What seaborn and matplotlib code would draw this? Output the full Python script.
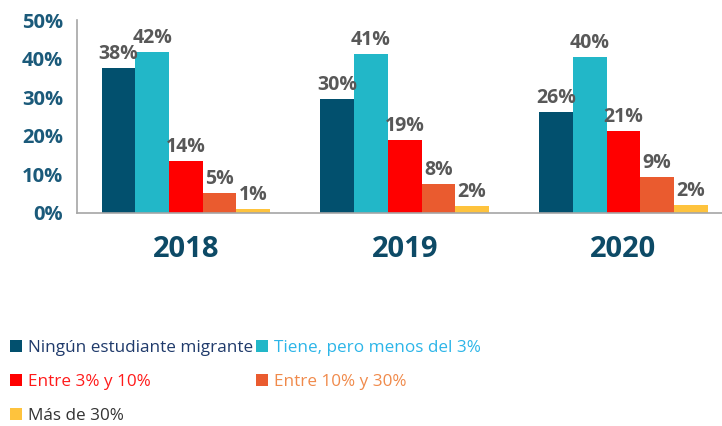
import matplotlib
matplotlib.use("Agg")
import matplotlib.pyplot as plt
import seaborn as sns
import pandas as pd
from matplotlib.patches import Patch

years = ["2018", "2019", "2020"]
categories = ["Ningún estudiante migrante", "Tiene, pero menos del 3%",
              "Entre 3% y 10%", "Entre 10% y 30%", "Más de 30%"]
values = {
    "Ningún estudiante migrante": [37.6, 29.5, 26.2],
    "Tiene, pero menos del 3%": [41.6, 41.1, 40.3],
    "Entre 3% y 10%": [13.5, 18.9, 21.2],
    "Entre 10% y 30%": [5.1, 7.5, 9.2],
    "Más de 30%": [1.0, 1.8, 2.1],
}
labels = {
    "Ningún estudiante migrante": ["38%", "30%", "26%"],
    "Tiene, pero menos del 3%": ["42%", "41%", "40%"],
    "Entre 3% y 10%": ["14%", "19%", "21%"],
    "Entre 10% y 30%": ["5%", "8%", "9%"],
    "Más de 30%": ["1%", "2%", "2%"],
}
yticks = [0, 10, 20, 30, 40, 50]

colors = ["#02506e", "#22b7c8", "#ff0000", "#ea5b2f", "#fec33d"]
text_colors = ["#1f3a6b", "#2cb5e8", "#ff1a1a", "#f08a4b", "#333333"]

rows = []
for c in categories:
    for y, v in zip(years, values[c]):
        rows.append({"year": y, "cat": c, "value": v})
df = pd.DataFrame(rows)

sns.set_theme(style="white")
plt.rcParams["font.family"] = ["Open Sans", "DejaVu Sans"]

fig = plt.figure(figsize=(7.22, 4.26), dpi=100)
ax = fig.add_axes([0.1066, 0.5, 0.8934, 0.453])

sns.barplot(data=df, x="year", y="value", hue="cat", hue_order=categories,
            order=years, palette=colors, width=0.77, linewidth=0,
            saturation=1, ax=ax, legend=False)

for cont, c in zip(ax.containers, categories):
    ax.bar_label(cont, labels=labels[c], padding=3, fontsize=14,
                 fontweight="bold", color="#585858")

ax.set_ylim(0, 50)
ax.set_xlim(-0.498, 2.45)
ax.set_yticks(yticks)
ax.set_yticklabels([f"{t}%" for t in yticks])
ax.set_xlabel("")
ax.set_ylabel("")
for s in ["top", "right"]:
    ax.spines[s].set_visible(False)
for s in ["left", "bottom"]:
    ax.spines[s].set_color("#a6a6a6")
    ax.spines[s].set_linewidth(1.2)
ax.tick_params(axis="y", length=0, pad=10, labelsize=14.5, labelcolor="#1b5a7a")
ax.tick_params(axis="x", length=0, pad=16, labelsize=21, labelcolor="#0d4a66")
for t in ax.get_yticklabels() + ax.get_xticklabels():
    t.set_fontweight("bold")

handles = [Patch(facecolor=col, edgecolor="none") for col in colors]
order = [0, 2, 4, 1, 3]
leg = fig.legend([handles[i] for i in order], [categories[i] for i in order],
                 ncol=2, loc="lower left", bbox_to_anchor=(0.0, -0.02),
                 frameon=False, fontsize=12.3, handlelength=0.7,
                 handleheight=0.7, handletextpad=0.35, columnspacing=0.15,
                 labelspacing=1.05, borderaxespad=0.2)
for txt, i in zip(leg.get_texts(), order):
    txt.set_color(text_colors[i])

fig.savefig("out.png", dpi=100)
